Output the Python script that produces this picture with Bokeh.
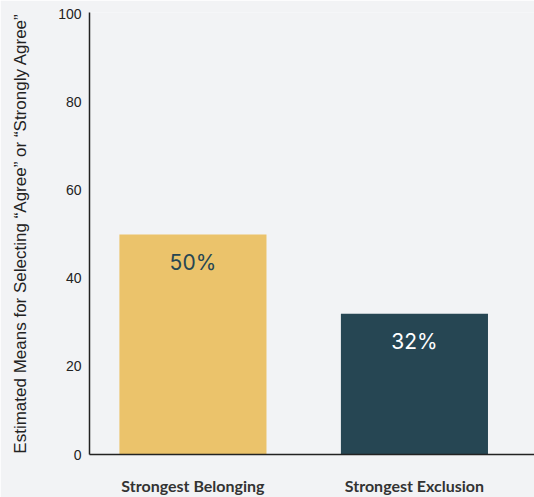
from bokeh.plotting import figure
from bokeh.models import Range1d, FixedTicker, ColumnDataSource
from bokeh.core.properties import value
from bokeh.embed import file_html
from bokeh.resources import INLINE

categories = ["Strongest Belonging", "Strongest Exclusion"]
values = [50, 32]
labels = ["50%", "32%"]
bar_colors = ["#EBC36B", "#264653"]
label_colors = ["#264653", "#FFFFFF"]
y_ticks = [0, 20, 40, 60, 80, 100]

BG = "#F2F3F5"
xs = list(range(len(categories)))

p = figure(width=534, height=497, output_backend="svg", toolbar_location=None,
           x_range=Range1d(-0.467, 1.542), y_range=Range1d(0, 100.45),
           min_border_left=89, min_border_right=0, min_border_top=12, min_border_bottom=43)
p.background_fill_color = BG
p.border_fill_color = BG
p.outline_line_color = None
p.xgrid.visible = False
p.ygrid.visible = False

src = ColumnDataSource(dict(x=xs, top=values, color=bar_colors, lab=labels, lc=label_colors))
p.vbar(x="x", top="top", width=0.664, color="color", source=src, line_color=None)
p.text(x="x", y="top", text="lab", text_color="lc", source=src, y_offset=28,
       text_align="center", text_baseline="middle", text_font_size="21px",
       text_font=value("Inter"))

p.xaxis.ticker = FixedTicker(ticks=xs)
p.xaxis.major_label_overrides = {i: c for i, c in enumerate(categories)}
p.xaxis.major_tick_line_color = None
p.xaxis.major_tick_out = 0
p.xaxis.major_tick_in = 0
p.xaxis.minor_tick_line_color = None
p.xaxis.axis_line_color = "#222222"
p.xaxis.axis_line_width = 1.5
p.xaxis.major_label_text_font = "Lato"
p.xaxis.major_label_text_font_style = "bold"
p.xaxis.major_label_text_font_size = "16px"
p.xaxis.major_label_text_color = "#333333"
p.xaxis.major_label_standoff = 21

p.yaxis.ticker = FixedTicker(ticks=y_ticks)
p.yaxis.major_tick_line_color = None
p.yaxis.major_tick_out = 0
p.yaxis.major_tick_in = 0
p.yaxis.minor_tick_line_color = None
p.yaxis.axis_line_color = "#222222"
p.yaxis.axis_line_width = 1.5
p.yaxis.major_label_text_font = "Liberation Sans"
p.yaxis.major_label_text_font_size = "14px"
p.yaxis.major_label_text_color = "#222222"
p.yaxis.major_label_standoff = 8
p.yaxis.axis_label = "Estimated Means for Selecting \u201cAgree\u201d or \u201cStrongly Agree\u201d"
p.yaxis.axis_label_text_font = "Liberation Sans"
p.yaxis.axis_label_text_font_style = "normal"
p.yaxis.axis_label_text_font_size = "17px"
p.yaxis.axis_label_text_color = "#222222"
p.yaxis.axis_label_standoff = 25

html = file_html(p, INLINE)
html = html.replace("<body>", '<body style="background:#F2F3F5">', 1)
open("out.html", "w").write(html)
